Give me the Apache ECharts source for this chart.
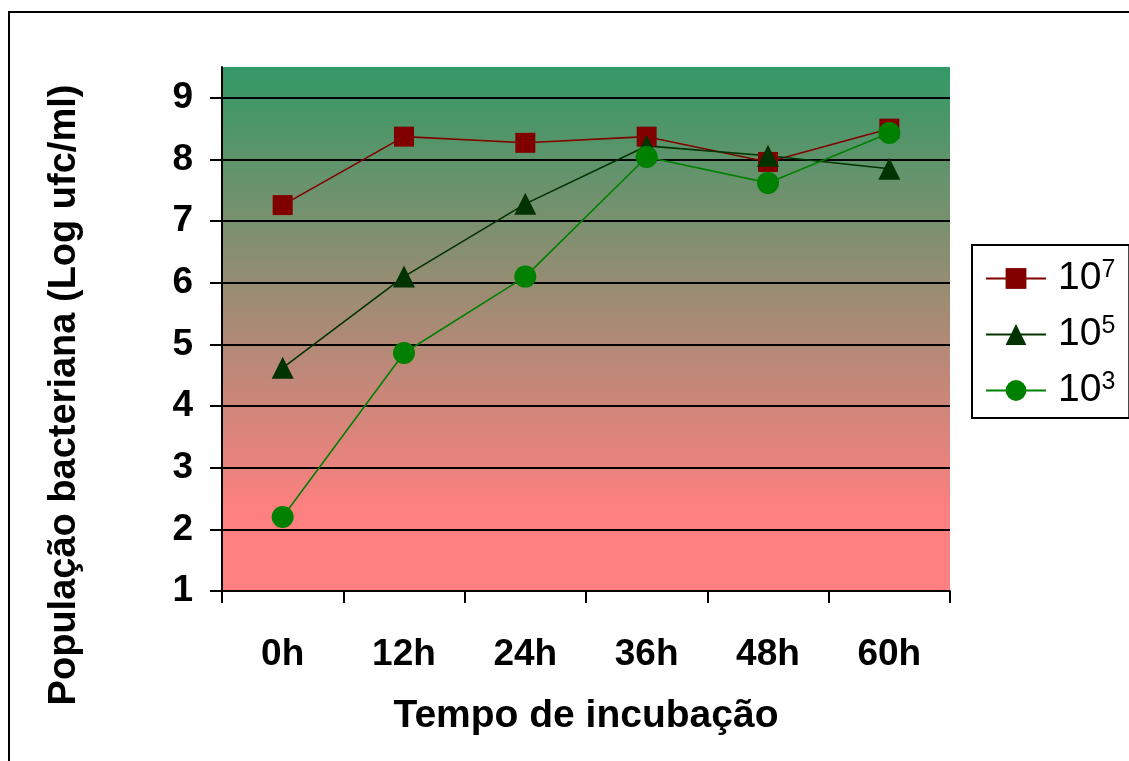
<!DOCTYPE html>
<html>
<head>
<meta charset="utf-8">
<script src="https://cdn.jsdelivr.net/npm/echarts@6/dist/echarts.min.js"></script>
<style>html,body{margin:0;padding:0;background:#fff}#c{width:1129px;height:761px}</style>
</head>
<body>
<div id="c"></div>
<script>
const categories = ['0h', '12h', '24h', '36h', '48h', '60h'];
const s7 = [7.26, 8.37, 8.27, 8.37, 7.96, 8.50];
const s5 = [4.62, 6.10, 7.28, 8.22, 8.06, 7.85];
const s3 = [2.20, 4.86, 6.10, 8.04, 7.62, 8.43];
const yTicks = [1, 2, 3, 4, 5, 6, 7, 8, 9];
const seriesNames = ['10{s|7}', '10{s|5}', '10{s|3}'];

const chart = echarts.init(document.getElementById('c'), null, {renderer: 'canvas'});
const FONT = '"Liberation Sans", Arial, sans-serif';
const bg = new echarts.graphic.LinearGradient(0, 0, 0, 1, [
  {offset: 0, color: '#339966'},
  {offset: 0.85, color: '#ff8080'},
  {offset: 1, color: '#ff8080'}
]);
function mk(name, data, color, symbol, size) {
  return {
    name: name, type: 'line', data: data,
    symbol: symbol, symbolSize: size,
    itemStyle: {color: color},
    lineStyle: {color: color, width: 1.6},
    emphasis: {disabled: true}, animation: false
  };
}
chart.setOption({
  animation: false,
  textStyle: {fontFamily: FONT},
  graphic: [{
    type: 'rect', z: -10, silent: true,
    shape: {x: 9, y: 12, width: 1140, height: 770},
    style: {fill: 'none', stroke: '#000', lineWidth: 2}
  }],
  grid: {left: 222, top: 67, width: 728, height: 524, show: true,
         backgroundColor: bg, borderWidth: 0},
  legend: {
    orient: 'vertical', left: 972, top: 245,
    padding: [13, 14, 8, 13], itemGap: 16,
    itemWidth: 60, itemHeight: 26,
    borderColor: '#000', borderWidth: 2,
    selectedMode: false,
    data: seriesNames,
    formatter: function (n) { return n; },
    textStyle: {
      fontFamily: FONT, fontSize: 39, color: '#000', padding: [0, 0, 0, 7],
      rich: {s: {fontSize: 25, verticalAlign: 'top', fontFamily: FONT, color: '#000', padding: [0,0,16,0]}}
    }
  },
  xAxis: {
    type: 'category', data: categories, boundaryGap: true,
    axisLine: {lineStyle: {color: '#000', width: 2}},
    axisTick: {show: true, length: 12, lineStyle: {color: '#000', width: 2}},
    axisLabel: {color: '#000', fontSize: 37, fontWeight: 'bold', margin: 45, fontFamily: FONT},
    splitLine: {show: false},
    name: 'Tempo de incubação', nameLocation: 'middle', nameGap: 106,
    nameTextStyle: {color: '#000', fontSize: 39, fontWeight: 'bold', fontFamily: FONT}
  },
  yAxis: {
    type: 'value', min: 1, max: 9.5,
    axisLine: {show: true, lineStyle: {color: '#000', width: 2}},
    axisTick: {show: true, length: 12, customValues: yTicks, lineStyle: {color: '#000', width: 2}},
    axisLabel: {color: '#000', fontSize: 37, fontWeight: 'bold', margin: 29, customValues: yTicks, fontFamily: FONT},
    splitLine: {show: true, lineStyle: {color: '#000', width: 2}},
    name: 'População bacteriana (Log ufc/ml)', nameLocation: 'middle', nameGap: 138,
    nameTextStyle: {color: '#000', fontSize: 38, fontWeight: 'bold', fontFamily: FONT, padding: [0, 132, 0, 0]}
  },
  series: [
    mk(seriesNames[0], s7, '#800000', 'rect', 20),
    mk(seriesNames[1], s5, '#003300', 'triangle', 22),
    mk(seriesNames[2], s3, '#008000', 'circle', 22)
  ]
});
</script>
</body>
</html>
